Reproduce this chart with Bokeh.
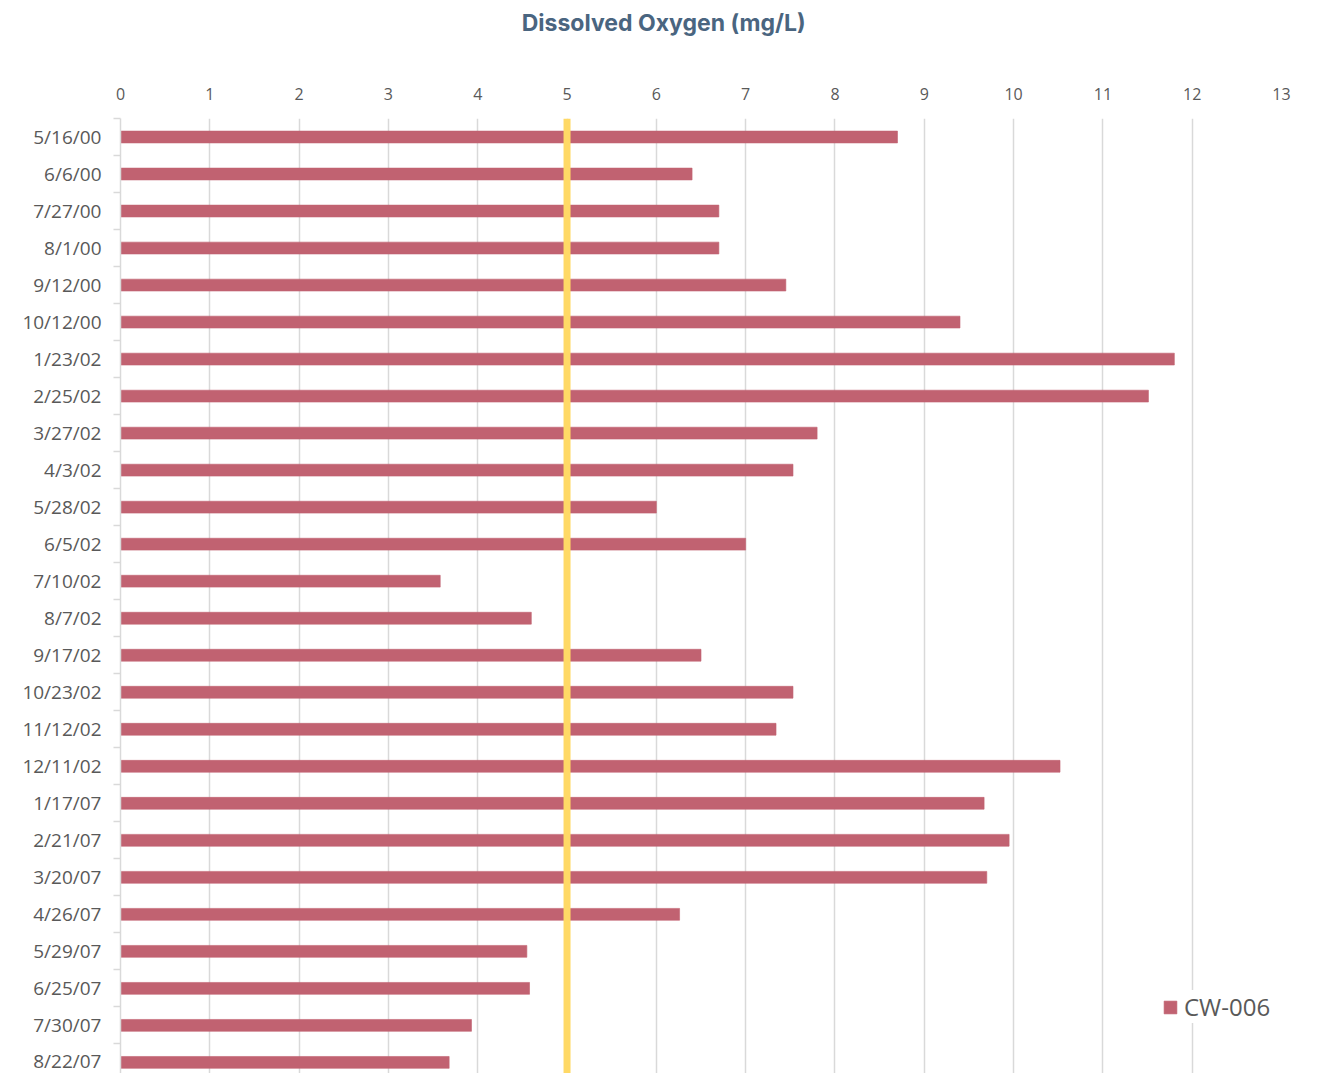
from bokeh.plotting import figure
from bokeh.models import (ColumnDataSource, Range1d, FixedTicker, Span,
                          Legend, LegendItem, Label)
from bokeh.layouts import column
from bokeh.embed import file_html
from bokeh.resources import INLINE

dates = ["5/16/00", "6/6/00", "7/27/00", "8/1/00", "9/12/00", "10/12/00",
         "1/23/02", "2/25/02", "3/27/02", "4/3/02", "5/28/02", "6/5/02",
         "7/10/02", "8/7/02", "9/17/02", "10/23/02", "11/12/02", "12/11/02",
         "1/17/07", "2/21/07", "3/20/07", "4/26/07", "5/29/07", "6/25/07",
         "7/30/07", "8/22/07"]
do_values = [8.70, 6.40, 6.70, 6.70, 7.45, 9.40,
             11.80, 11.51, 7.80, 7.53, 6.00, 7.00,
             3.58, 4.60, 6.50, 7.53, 7.34, 10.52,
             9.67, 9.95, 9.70, 6.26, 4.55, 4.58,
             3.93, 3.68]
x_ticks = list(range(0, 14))
threshold = 5
series_name = "CW-006"
title_text = "Dissolved Oxygen (mg/L)"

n = len(dates)
idx = list(range(n))
source = ColumnDataSource(dict(y=idx, value=do_values, date=dates))

W = 1306
TITLE_H = 44

# title strip
t = figure(width=W, height=TITLE_H, output_backend="svg", toolbar_location=None,
           x_range=Range1d(0, W), y_range=Range1d(TITLE_H, 0),
           x_axis_location=None, y_axis_location=None,
           min_border=0, outline_line_color=None)
t.xgrid.visible = False
t.ygrid.visible = False
t.add_layout(Label(text=title_text, x=611, y=22, text_align="center",
                   text_baseline="middle", text_font="Inter",
                   text_font_size="23px", text_font_style="bold",
                   text_color="#4A6580"))

p = figure(width=W, height=1073 - TITLE_H, output_backend="svg", toolbar_location=None,
           x_range=Range1d(0, 13), y_range=Range1d(n - 0.7, -0.5),
           x_axis_location="above", min_border_left=120, min_border_right=25,
           min_border_bottom=0, min_border_top=118 - TITLE_H, outline_line_color=None)

bars = p.hbar(y="y", right="value", left=0, height=0.32, source=source,
              fill_color="#C16271", line_color="#C16271", line_alpha=0.6, line_width=1)

span = Span(location=threshold, dimension="height", line_color="#FFD966", line_width=7)
p.add_layout(span)

xa = p.xaxis[0]
xa.ticker = FixedTicker(ticks=x_ticks)
xa.axis_line_color = None
xa.major_tick_line_color = None
xa.minor_tick_line_color = None
xa.major_label_text_font = "Open Sans"
xa.major_label_text_font_size = "16px"
xa.major_label_text_color = "#595959"
xa.major_label_standoff = 13

ya = p.yaxis[0]
ya.ticker = FixedTicker(ticks=idx, minor_ticks=[i - 0.5 for i in range(n + 1)])
ya.major_label_overrides = {i: d for i, d in zip(idx, dates)}
ya.axis_line_color = "#D9D9D9"
ya.axis_line_width = 1.5
ya.major_tick_line_color = None
ya.minor_tick_line_color = "#D9D9D9"
ya.minor_tick_line_width = 1.5
ya.minor_tick_out = 7
ya.minor_tick_in = 0
ya.major_label_text_font = "Open Sans"
ya.major_label_text_font_size = "19px"
ya.major_label_text_color = "#595959"
ya.major_label_standoff = 12

p.xgrid.ticker = FixedTicker(ticks=x_ticks)
p.xgrid.grid_line_color = "#D9D9D9"
p.xgrid.grid_line_width = 1.5
p.ygrid.grid_line_color = None

legend = Legend(items=[LegendItem(label=series_name, renderers=[bars])],
                location="bottom_right", border_line_color=None,
                background_fill_color="white", background_fill_alpha=1.0,
                label_text_font="Open Sans", label_text_font_size="24px",
                label_text_color="#595959", glyph_width=16, glyph_height=16,
                label_standoff=6, padding=6, margin=0)
p.add_layout(legend)
legend.location = (1042, 50)

layout = column(t, p, spacing=0)
open("out.html", "w").write(file_html(layout, INLINE))
